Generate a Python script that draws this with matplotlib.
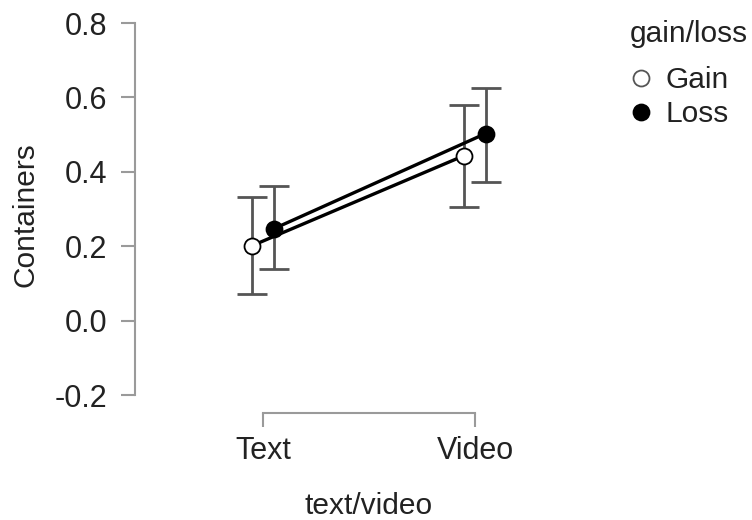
import matplotlib
matplotlib.use("Agg")
import matplotlib.pyplot as plt
from matplotlib.lines import Line2D
import numpy as np

plt.rcParams['font.family'] = ['Liberation Sans', 'DejaVu Sans']

categories = ["Text", "Video"]
groups = ["Gain", "Loss"]
means = {"Gain": [0.202, 0.444], "Loss": [0.247, 0.503]}
lower = {"Gain": [0.073, 0.306], "Loss": [0.140, 0.374]}
upper = {"Gain": [0.333, 0.581], "Loss": [0.363, 0.626]}
yticks = [-0.2, 0.0, 0.2, 0.4, 0.6, 0.8]
ytick_labels = ["-0.2", "0.0", "0.2", "0.4", "0.6", "0.8"]
legend_title = "gain/loss"

W, H = 752, 520
fig = plt.figure(figsize=(W / 100, H / 100), dpi=100)
ax = fig.add_axes([135 / W, (H - 413) / H, (603 - 135) / W, (413 - 15.6) / H])

x = np.arange(len(categories))
offsets = {"Gain": -0.05, "Loss": 0.05}
faces = {"Gain": "white", "Loss": "black"}
txtc = "#222222"
gridc = "#9a9a9a"

for g in groups:
    xs = x + offsets[g]
    m = np.array(means[g])
    lo = m - np.array(lower[g])
    hi = np.array(upper[g]) - m
    ax.errorbar(xs, m, yerr=[lo, hi], fmt="none", ecolor="#555555",
                elinewidth=2, capsize=10.5, capthick=2, zorder=1)
for g in groups:
    xs = x + offsets[g]
    ax.plot(xs, means[g], color="black", lw=2.4, zorder=2)
for g in groups:
    xs = x + offsets[g]
    ax.plot(xs, means[g], ls="none", marker="o", ms=11.5, mfc=faces[g],
            mec="black", mew=1.3, zorder=3)

ax.set_xlim(-0.604, 1.604)
ax.set_ylim(-0.248, 0.82)
ax.set_xticks(x)
ax.set_xticklabels(categories)
ax.set_yticks(yticks)
ax.set_yticklabels(ytick_labels)

for s in ["top", "right"]:
    ax.spines[s].set_visible(False)
ax.spines["left"].set_bounds(-0.2, 0.8)
ax.spines["bottom"].set_bounds(0, 1)
for s in ["left", "bottom"]:
    ax.spines[s].set_color(gridc)
    ax.spines[s].set_linewidth(1.5)
ax.tick_params(axis="both", length=10, width=1.5, color=gridc,
               labelsize=22, labelcolor=txtc)
ax.tick_params(axis="x", pad=6.5)
ax.tick_params(axis="y", pad=10)

ax.set_xlabel("text/video", fontsize=21.5, color=txtc, labelpad=19)
ax.set_ylabel("Containers", fontsize=21.5, color=txtc, labelpad=11)

handles = [Line2D([], [], ls="none", marker="o", ms=11.5, mfc=faces[g],
                  mec="black" if g == "Loss" else "#555555", mew=1.3)
           for g in groups]
leg = fig.legend(handles, groups, loc="upper left",
                 bbox_to_anchor=(630 / W, 1 - 66 / H), frameon=False,
                 fontsize=21.5, handletextpad=0.43,
                 handlelength=0.75, labelspacing=0.2, borderpad=0.0,
                 borderaxespad=0.0)
for t in leg.get_texts():
    t.set_color(txtc)
fig.text(630 / W, 1 - 42 / H, legend_title, fontsize=21.5, color=txtc,
         ha="left", va="baseline")

fig.savefig("out.png", dpi=100)
